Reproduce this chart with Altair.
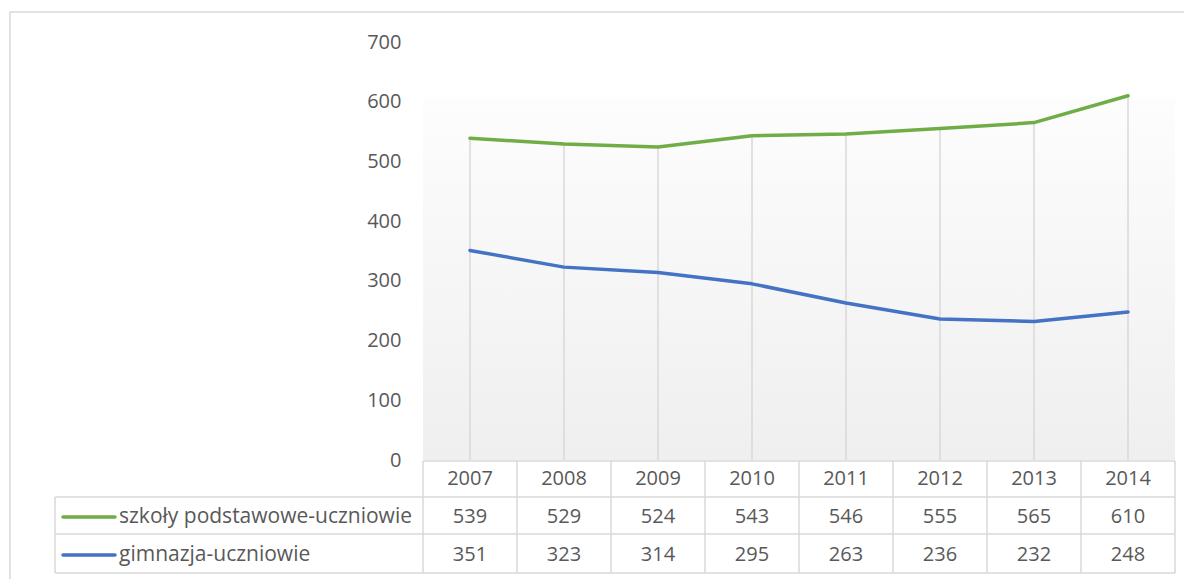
import altair as alt
import pandas as pd

years = ["2007", "2008", "2009", "2010", "2011", "2012", "2013", "2014"]
series_names = ["szkoły podstawowe-uczniowie", "gimnazja-uczniowie"]
podstawowe = [539, 529, 524, 543, 546, 555, 565, 610]
gimnazja = [351, 323, 314, 295, 263, 236, 232, 248]
y_ticks = [0, 100, 200, 300, 400, 500, 600, 700]
colors = ["#70AD47", "#4472C4"]

FONT = "Open Sans"
TXT = "#595959"
LINE = "#d9d9d9"
FS = 20
FS_LEG = 21

W, H = 752, 418
STEP = W / len(years)
ROW_Y = [475, 513]

rows = []
for s, vals in zip(series_names, [podstawowe, gimnazja]):
    for y, v in zip(years, vals):
        rows.append({"year": y, "series": s, "value": v})
df = pd.DataFrame(rows)
df_top = pd.DataFrame({"year": years, "value": podstawowe, "zero": [0] * len(years)})

xs = alt.Scale(type="point", domain=years, padding=0.5)
ys = alt.Scale(domain=[0, 700])
cs = alt.Scale(domain=series_names, range=colors)
yaxis = alt.Axis(
    values=y_ticks, domain=False, ticks=False, grid=False, title=None,
    labelFont=FONT, labelFontSize=FS, labelColor=TXT, labelPadding=22,
)
one = pd.DataFrame({"a": [0]})

# background gradient of plot area
bg = alt.Chart(one).mark_rect(
    color=alt.Gradient(
        gradient="linear",
        stops=[alt.GradientStop(color="#fdfdfd", offset=0), alt.GradientStop(color="#efefef", offset=1)],
        x1=0, x2=0, y1=0, y2=1,
    )
).encode(x=alt.value(0), x2=alt.value(W), y=alt.value(55), y2=alt.value(H))

# outer border
border = alt.Chart(one).mark_rect(
    fill=None, stroke=LINE, strokeWidth=1.5
).encode(x=alt.value(-413), x2=alt.value(800), y=alt.value(-30), y2=alt.value(560))

# drop lines
drop = alt.Chart(df_top).mark_rule(color=LINE, strokeWidth=1.5).encode(
    x=alt.X("year:O", scale=xs, axis=None),
    y=alt.Y("value:Q", scale=ys, axis=yaxis),
    y2="zero:Q",
)

lines = alt.Chart(df).mark_line(strokeWidth=3.5, strokeCap="round", strokeJoin="round").encode(
    x=alt.X("year:O", scale=xs, axis=None),
    y=alt.Y("value:Q", scale=ys, axis=yaxis),
    color=alt.Color("series:N", scale=cs, legend=None),
    detail="series:N",
)

# table grid lines
hl = [(0, W, 419), (-368, W, 455), (-368, W, 492), (-368, W, 531)]
vl = [(-368, 455, 531)] + [(i * STEP, 419, 531) for i in range(len(years) + 1)]

hrules = [
    alt.Chart(one).mark_rule(color=LINE, strokeWidth=1.5).encode(
        x=alt.value(a), x2=alt.value(b), y=alt.value(c)
    )
    for a, b, c in hl
]
vrules = [
    alt.Chart(one).mark_rule(color=LINE, strokeWidth=1.5).encode(
        x=alt.value(a), y=alt.value(b), y2=alt.value(c)
    )
    for a, b, c in vl
]

# table texts
year_txt = alt.Chart(pd.DataFrame({"year": years})).mark_text(
    font=FONT, fontSize=FS, color=TXT, baseline="middle"
).encode(x=alt.X("year:O", scale=xs, axis=None), y=alt.value(437), text="year:N")

val_txts = []
leg = []
for s, ry, col in zip(series_names, ROW_Y, colors):
    val_txts.append(
        alt.Chart(df[df.series == s]).mark_text(
            font=FONT, fontSize=FS, color=TXT, baseline="middle"
        ).encode(x=alt.X("year:O", scale=xs, axis=None), y=alt.value(ry), text="value:Q")
    )
    leg.append(
        alt.Chart(one).mark_rule(strokeWidth=3.5, strokeCap="round", color=col).encode(
            x=alt.value(-360), x2=alt.value(-308), y=alt.value(ry)
        )
    )
    leg.append(
        alt.Chart(pd.DataFrame({"series": [s]})).mark_text(
            font=FONT, fontSize=FS_LEG, color=TXT, align="left", baseline="middle"
        ).encode(x=alt.value(-304), y=alt.value(ry), text="series:N")
    )

chart = alt.layer(
    border, bg, drop, lines, *hrules, *vrules, year_txt, *val_txts, *leg
).properties(
    width=W, height=H,
    autosize=alt.AutoSizeParams(type="none"),
    padding={"left": 415, "top": 34, "right": 9, "bottom": 119},
).configure_view(stroke=None)

chart.save("out.html", embed_options={"renderer": "svg", "actions": False})
